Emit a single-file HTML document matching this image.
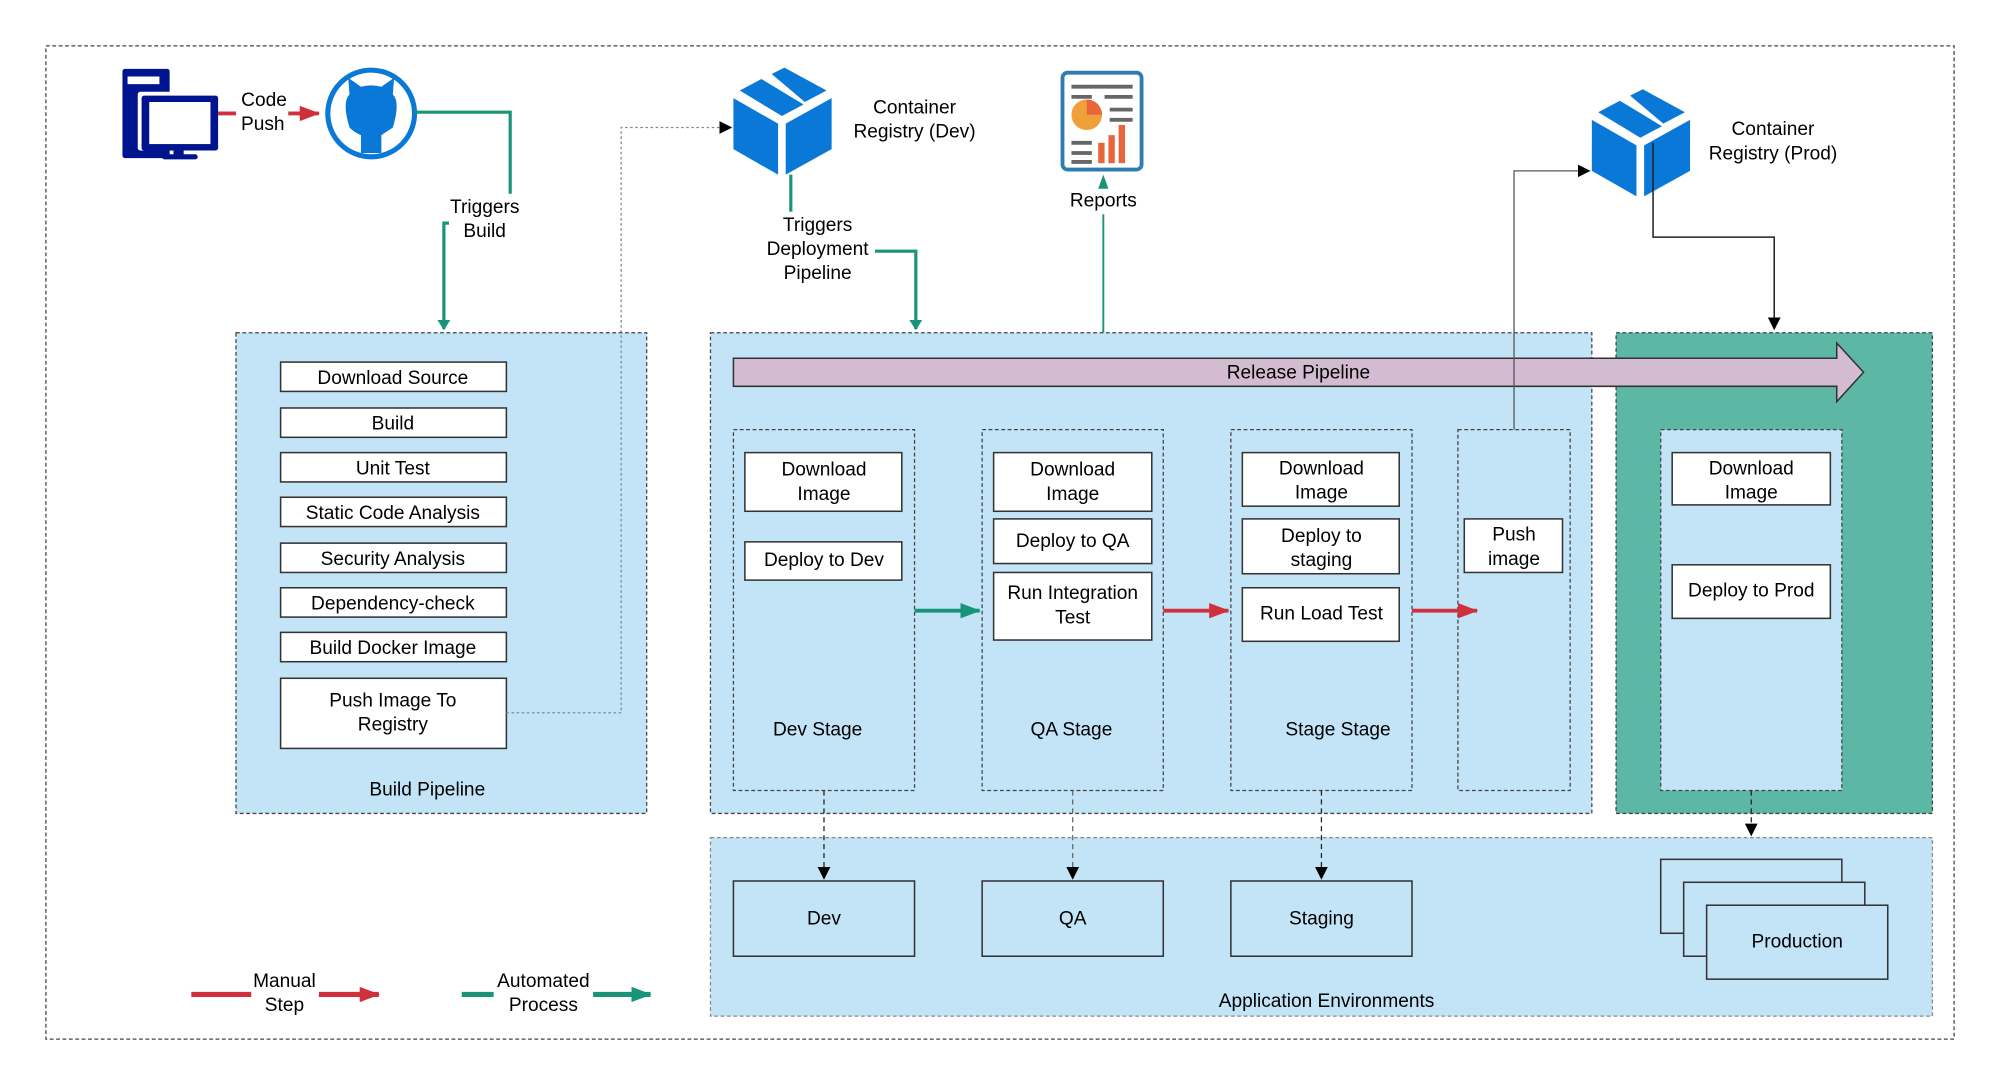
<!DOCTYPE html>
<html><head><meta charset="utf-8"><style>html,body{margin:0;padding:0;background:#fff}svg{display:block}</style></head>
<body>
<svg width="2000" height="1085" viewBox="0 0 1568 851" preserveAspectRatio="none" xmlns="http://www.w3.org/2000/svg" font-family="Liberation Sans, sans-serif" font-size="15" text-anchor="middle">
<defs>
<marker id="ag" markerWidth="8" markerHeight="10" refX="7" refY="5" orient="auto" markerUnits="userSpaceOnUse"><path d="M0,0 L8,5 L0,10z" fill="#1a9478"/></marker>
<marker id="ak" markerWidth="10" markerHeight="10" refX="9" refY="5" orient="auto" markerUnits="userSpaceOnUse"><path d="M0,0 L10,5 L0,10z" fill="#000"/></marker>
<marker id="ar" markerWidth="16" markerHeight="12" refX="15" refY="6" orient="auto" markerUnits="userSpaceOnUse"><path d="M0,0 L16,6 L0,12z" fill="#d0303c"/></marker>
<marker id="ag2" markerWidth="16" markerHeight="12" refX="15" refY="6" orient="auto" markerUnits="userSpaceOnUse"><path d="M0,0 L16,6 L0,12z" fill="#1a9478"/></marker>
<g id="cube" fill="#0a78d7">
<polygon points="0,24 35,44 35,84 0,64"/>
<polygon points="41,44 77,24 77,64 41,84"/>
<polygon points="5,18 22,9 55,29 38,38"/>
<polygon points="30,5 40,0 73,18 56,27"/>
</g>
</defs>
<rect x="36" y="36" width="1496" height="779" fill="none" stroke="#444" stroke-dasharray="3,2"/>

<rect x="96" y="54" width="37" height="70" rx="2" fill="#00148f"/>
<rect x="100" y="60" width="25" height="6" fill="#fff"/>
<rect x="108" y="72" width="63" height="46" rx="2" fill="#fff"/>
<rect x="111" y="75" width="60" height="43" rx="2" fill="#00148f"/>
<rect x="117" y="80" width="48" height="33" fill="#fff"/>
<rect x="136" y="118" width="8" height="5" fill="#00148f"/>
<rect x="127" y="121" width="28" height="4" rx="2" fill="#00148f"/>
<line x1="171" y1="89" x2="185" y2="89" stroke="#d0303c" stroke-width="3"/>
<line x1="226" y1="89" x2="250" y2="89" stroke="#d0303c" stroke-width="3" marker-end="url(#ar)"/>
<text x="207" y="83">Code</text><text x="206" y="102">Push</text>
<circle cx="291" cy="89" r="34" fill="#fff" stroke="#0a78d7" stroke-width="4"/>
<path d="M274,100 Q268,80 274,74 L273,61 L283,68 Q291,66 299,68 L309,61 L308,74 Q314,80 308,100 Q302,104 299,106 L299,120 L283,120 L283,106 Q278,104 274,100z" fill="#0a78d7"/>
<polyline points="325,88 400,88 400,152" fill="none" stroke="#1a9478" stroke-width="2.5"/>
<text x="380" y="167">Triggers</text><text x="380" y="186">Build</text>
<polyline points="352,175 348,175 348,258" fill="none" stroke="#1a9478" stroke-width="2.5" marker-end="url(#ag)"/>

<use href="#cube" x="575" y="53"/>
<text x="717" y="89">Container</text><text x="717" y="108">Registry (Dev)</text>
<line x1="620" y1="137" x2="620" y2="166" stroke="#1a9478" stroke-width="2.5"/>
<text x="641" y="181">Triggers</text><text x="641" y="200">Deployment</text><text x="641" y="219">Pipeline</text>
<polyline points="686,197 718,197 718,258" fill="none" stroke="#1a9478" stroke-width="2.5" marker-end="url(#ag)"/>
<polyline points="397,559 487,559 487,100 573,100" fill="none" stroke="#888" stroke-dasharray="2,2" marker-end="url(#ak)"/>

<rect x="833" y="57" width="62" height="76" rx="4" fill="#fff" stroke="#2f7cb0" stroke-width="3"/>
<g stroke="#666" stroke-width="3"><line x1="840" y1="68" x2="888" y2="68"/><line x1="840" y1="76" x2="856" y2="76"/><line x1="866" y1="76" x2="888" y2="76"/><line x1="870" y1="86" x2="888" y2="86"/><line x1="870" y1="94" x2="888" y2="94"/><line x1="840" y1="112" x2="856" y2="112"/><line x1="840" y1="120" x2="856" y2="120"/><line x1="840" y1="127" x2="856" y2="127"/></g>
<circle cx="852" cy="90" r="12" fill="#f0a03a"/><path d="M852,90 L852,78 A12,12 0 0 1 864,90z" fill="#e9663a"/>
<g fill="#e9663a"><rect x="861" y="112" width="5" height="16"/><rect x="869" y="106" width="5" height="22"/><rect x="877" y="98" width="5" height="30"/></g>
<text x="865" y="162">Reports</text>
<line x1="865" y1="261" x2="865" y2="168" stroke="#1a9478" stroke-width="1.5"/>
<path d="M861,148 L865,137 L869,148z" fill="#1a9478"/>

<use href="#cube" x="1248" y="70"/>
<text x="1390" y="106">Container</text><text x="1390" y="125">Registry (Prod)</text>

<rect x="185" y="261" width="322" height="377" fill="#c2e4f6" stroke="#444" stroke-dasharray="3,2"/>
<g fill="#fff" stroke="#333" stroke-width="1.2">
<rect x="220" y="284" width="177" height="23"/><rect x="220" y="320" width="177" height="23"/><rect x="220" y="355" width="177" height="23"/><rect x="220" y="390" width="177" height="23"/><rect x="220" y="426" width="177" height="23"/><rect x="220" y="461" width="177" height="23"/><rect x="220" y="496" width="177" height="23"/><rect x="220" y="532" width="177" height="55"/>
</g>
<text x="308" y="301">Download Source</text><text x="308" y="337">Build</text><text x="308" y="372">Unit Test</text><text x="308" y="407">Static Code Analysis</text><text x="308" y="443">Security Analysis</text><text x="308" y="478">Dependency-check</text><text x="308" y="513">Build Docker Image</text><text x="308" y="554">Push Image To</text><text x="308" y="573">Registry</text>
<text x="335" y="624">Build Pipeline</text>
<polyline points="397,559 487,559 487,261" fill="none" stroke="#888" stroke-dasharray="2,2"/>

<rect x="557" y="261" width="691" height="377" fill="#c2e4f6" stroke="#444" stroke-dasharray="3,2"/>
<rect x="1267" y="261" width="248" height="377" fill="#5cb8a5" stroke="#444" stroke-dasharray="3,2"/>
<polygon points="575,281 1440,281 1440,269 1461,292 1440,315 1440,303 575,303" fill="#d3bbd2" stroke="#333" stroke-width="1.2"/>
<text x="1018" y="297">Release Pipeline</text>
<g fill="#c2e4f6" stroke="#444" stroke-dasharray="3,2">
<rect x="575" y="337" width="142" height="283"/><rect x="770" y="337" width="142" height="283"/><rect x="965" y="337" width="142" height="283"/><rect x="1143" y="337" width="88" height="283"/><rect x="1302" y="337" width="142" height="283"/>
</g>
<g fill="#fff" stroke="#333" stroke-width="1.2">
<rect x="584" y="355" width="123" height="46"/><rect x="584" y="425" width="123" height="30"/>
<rect x="779" y="355" width="124" height="46"/><rect x="779" y="407" width="124" height="35"/><rect x="779" y="449" width="124" height="53"/>
<rect x="974" y="355" width="123" height="42"/><rect x="974" y="407" width="123" height="43"/><rect x="974" y="461" width="123" height="42"/>
<rect x="1148" y="407" width="77" height="42"/>
<rect x="1311" y="355" width="124" height="41"/><rect x="1311" y="443" width="124" height="42"/>
</g>
<text x="646" y="373">Download</text><text x="646" y="392">Image</text><text x="646" y="444">Deploy to Dev</text>
<text x="841" y="373">Download</text><text x="841" y="392">Image</text><text x="841" y="429">Deploy to QA</text><text x="841" y="470">Run Integration</text><text x="841" y="489">Test</text>
<text x="1036" y="372">Download</text><text x="1036" y="391">Image</text><text x="1036" y="425">Deploy to</text><text x="1036" y="444">staging</text><text x="1036" y="486">Run Load Test</text>
<text x="1187" y="424">Push</text><text x="1187" y="443">image</text>
<text x="1373" y="372">Download</text><text x="1373" y="391">Image</text><text x="1373" y="468">Deploy to Prod</text>
<text x="641" y="577">Dev Stage</text><text x="840" y="577">QA Stage</text><text x="1049" y="577">Stage Stage</text>
<line x1="717" y1="479" x2="768" y2="479" stroke="#1a9478" stroke-width="3" marker-end="url(#ag2)"/>
<line x1="912" y1="479" x2="963" y2="479" stroke="#d0303c" stroke-width="3" marker-end="url(#ar)"/>
<line x1="1107" y1="479" x2="1158" y2="479" stroke="#d0303c" stroke-width="3" marker-end="url(#ar)"/>
<polyline points="1187,337 1187,134 1246,134" fill="none" stroke="#555" stroke-width="1" marker-end="url(#ak)"/>
<polyline points="1296,112 1296,186 1391,186 1391,258" fill="none" stroke="#222" stroke-width="1.2" marker-end="url(#ak)"/>

<rect x="557" y="657" width="958" height="140" fill="#c2e4f6" stroke="#888" stroke-dasharray="3,2"/>
<g fill="#c2e4f6" stroke="#333" stroke-width="1.2">
<rect x="575" y="691" width="142" height="59"/><rect x="770" y="691" width="142" height="59"/><rect x="965" y="691" width="142" height="59"/>
<rect x="1302" y="674" width="142" height="58"/><rect x="1320" y="692" width="142" height="58"/><rect x="1338" y="710" width="142" height="58"/>
</g>
<text x="646" y="725">Dev</text><text x="841" y="725">QA</text><text x="1036" y="725">Staging</text><text x="1409" y="743">Production</text>
<text x="1040" y="790">Application Environments</text>
<g fill="none" stroke="#222" stroke-dasharray="4,3" marker-end="url(#ak)">
<line x1="646" y1="620" x2="646" y2="689"/><line x1="841" y1="620" x2="841" y2="689" stroke="#666"/><line x1="1036" y1="620" x2="1036" y2="689"/><line x1="1373" y1="620" x2="1373" y2="655"/>
</g>

<line x1="150" y1="780" x2="197" y2="780" stroke="#d0303c" stroke-width="4"/>
<line x1="250" y1="780" x2="297" y2="780" stroke="#d0303c" stroke-width="4" marker-end="url(#ar)"/>
<text x="223" y="774">Manual</text><text x="223" y="793">Step</text>
<line x1="362" y1="780" x2="387" y2="780" stroke="#1a9478" stroke-width="4"/>
<line x1="465" y1="780" x2="510" y2="780" stroke="#1a9478" stroke-width="4" marker-end="url(#ag2)"/>
<text x="426" y="774">Automated</text><text x="426" y="793">Process</text>
</svg>
</body></html>
